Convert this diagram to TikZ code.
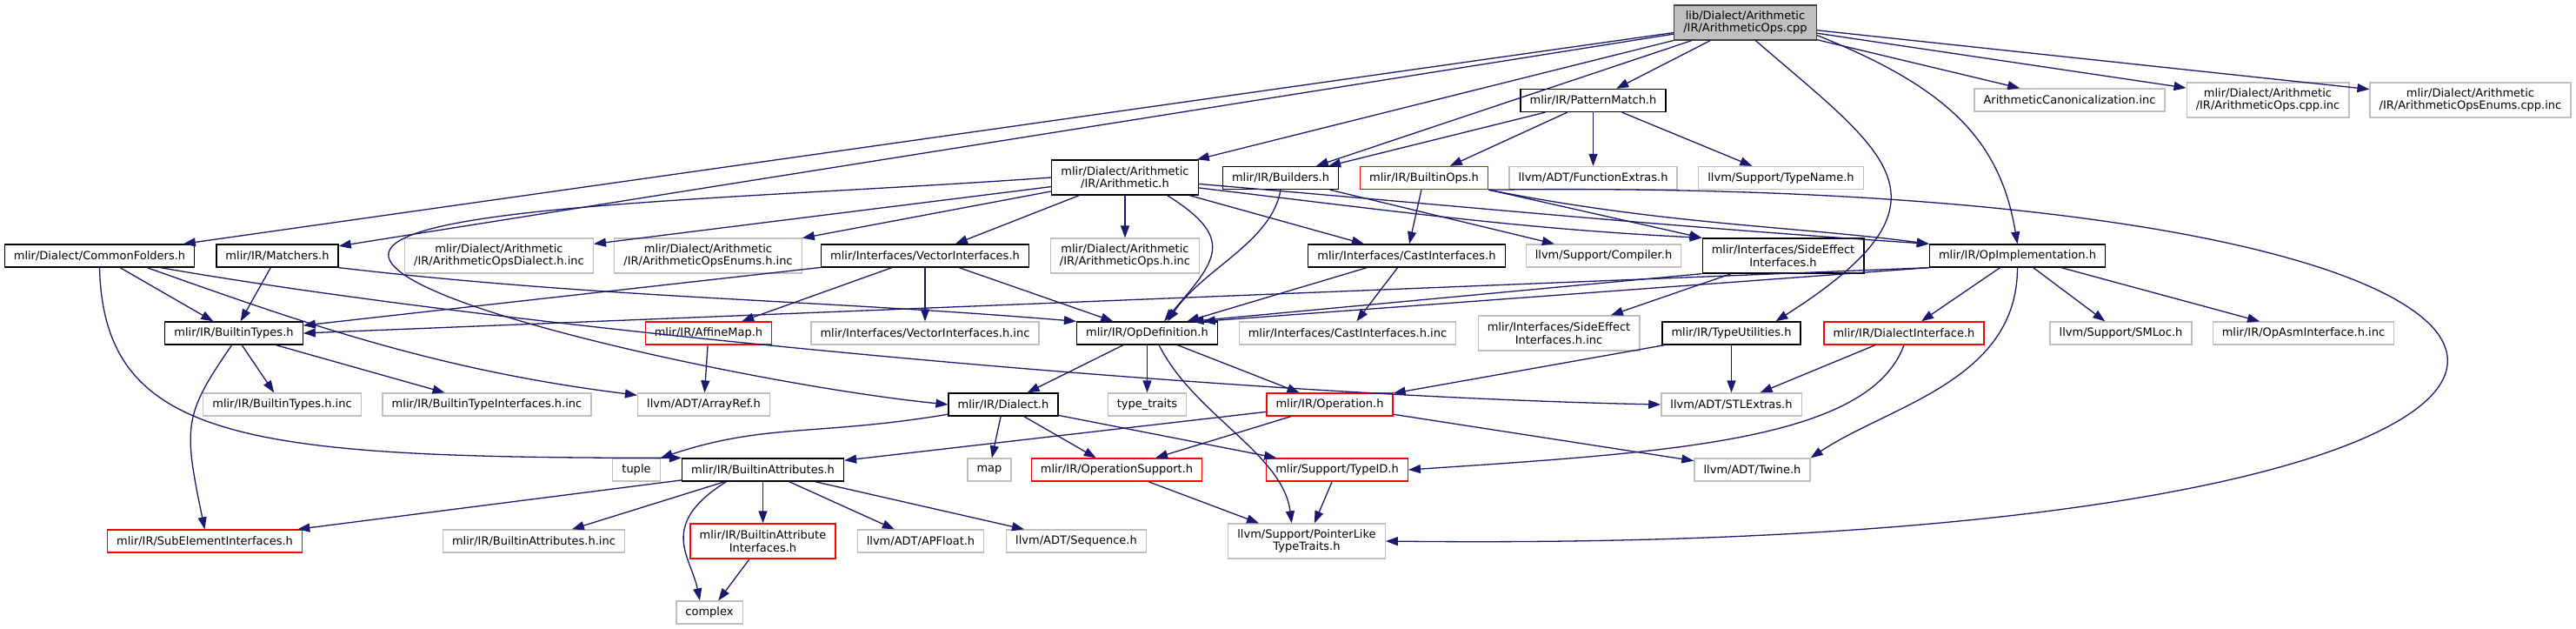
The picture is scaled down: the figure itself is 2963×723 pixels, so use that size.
\documentclass[tikz,border=0pt]{standalone}
\usepackage{fontspec}
\setmainfont{DejaVu Sans}
\usepackage{tikz}
\usetikzlibrary{arrows.meta}
\definecolor{edgeblue}{rgb}{0.1, 0.1, 0.44}
\definecolor{boxgray}{gray}{0.75}
\definecolor{rootborder}{gray}{0.25}

\begin{document}
\begin{tikzpicture}[
    x=0.5pt, y=-0.5pt,
    every node/.style={font=\fontsize{6.5}{7.2}\selectfont, align=center, inner xsep=5.3pt, inner ysep=1pt, minimum height=13pt},
    header/.style={draw=black,      line width=0.65pt},
    extern/.style={draw=boxgray,    line width=0.65pt},
    trunc/.style ={draw=red,        line width=0.65pt},
    source/.style={draw=rootborder, fill=boxgray, line width=0.65pt, minimum height=20pt},
    tall/.style  ={minimum height=20pt},
    arrow/.style ={-{Triangle[length=7pt, width=5pt]}, draw=edgeblue, line width=0.65pt}
]

\useasboundingbox[fill=white] (0,0) rectangle (2963,723);

% ========== ROW 0: source file ==========
\node[source] (main) at (2007.5,26) {lib/Dialect/Arithmetic\\/IR/ArithmeticOps.cpp};

% ========== ROW 1 ==========
\node[header]       (patmatch)    at (1832.5,115.5) {mlir/IR/PatternMatch.h};
\node[extern]       (canon)       at (2380.5,115)   {ArithmeticCanonicalization.inc};
\node[extern, tall] (opscppinc)   at (2608.5,115)   {mlir/Dialect/Arithmetic\\/IR/ArithmeticOps.cpp.inc};
\node[extern, tall] (enumscppinc) at (2841.5,115)   {mlir/Dialect/Arithmetic\\/IR/ArithmeticOpsEnums.cpp.inc};

% ========== ROW 2 ==========
\node[header, tall] (arith)      at (1294,204)   {mlir/Dialect/Arithmetic\\/IR/Arithmetic.h};
\node[header]       (builders)   at (1473,204.5) {mlir/IR/Builders.h};
\node[trunc]        (builtinops) at (1638,204.5) {mlir/IR/BuiltinOps.h};
\node[extern]       (funcextras) at (1832.5,204.5) {llvm/ADT/FunctionExtras.h};
\node[extern]       (typename)   at (2048.5,204.5) {llvm/Support/TypeName.h};

% ========== ROW 3 ==========
\node[header]       (commonfolders) at (114.5,294) {mlir/Dialect/CommonFolders.h};
\node[header]       (matchers)      at (319,294)   {mlir/IR/Matchers.h};
\node[extern, tall] (dialectinc)    at (574,294)   {mlir/Dialect/Arithmetic\\/IR/ArithmeticOpsDialect.h.inc};
\node[extern, tall] (enumsinc)      at (814.5,294) {mlir/Dialect/Arithmetic\\/IR/ArithmeticOpsEnums.h.inc};
\node[header]       (vectorif)      at (1064,294)  {mlir/Interfaces/VectorInterfaces.h};
\node[extern, tall] (opsinc)        at (1294,294)  {mlir/Dialect/Arithmetic\\/IR/ArithmeticOps.h.inc};
\node[header]       (castif)        at (1618,294)  {mlir/Interfaces/CastInterfaces.h};
\node[extern]       (compiler)      at (1844.5,294) {llvm/Support/Compiler.h};
\node[header, tall] (sideeffect)    at (2051,294)  {mlir/Interfaces/SideEffect\\Interfaces.h};
\node[header]       (opimpl)        at (2320.5,294) {mlir/IR/OpImplementation.h};

% ========== ROW 4 ==========
\node[header]       (builtintypes)  at (269,383)    {mlir/IR/BuiltinTypes.h};
\node[trunc]        (affinemap)     at (815,383)    {mlir/IR/AffineMap.h};
\node[extern]       (vectorifinc)   at (1064,383)   {mlir/Interfaces/VectorInterfaces.h.inc};
\node[header]       (opdef)         at (1319.5,383) {mlir/IR/OpDefinition.h};
\node[extern]       (castifinc)     at (1550,383)   {mlir/Interfaces/CastInterfaces.h.inc};
\node[extern, tall] (sideeffectinc) at (1793,383)   {mlir/Interfaces/SideEffect\\Interfaces.h.inc};
\node[header]       (typeutil)      at (1991.5,383) {mlir/IR/TypeUtilities.h};
\node[trunc]        (dialectif)     at (2190,383)   {mlir/IR/DialectInterface.h};
\node[extern]       (smloc)         at (2439.5,383) {llvm/Support/SMLoc.h};
\node[extern]       (opasminc)      at (2649.5,383) {mlir/IR/OpAsmInterface.h.inc};

% ========== ROW 5 ==========
\node[extern] (builtintypesinc) at (324.5,465)  {mlir/IR/BuiltinTypes.h.inc};
\node[extern] (typeifinc)       at (560,465)    {mlir/IR/BuiltinTypeInterfaces.h.inc};
\node[extern] (arrayref)        at (809.5,465)  {llvm/ADT/ArrayRef.h};
\node[header] (dialect)         at (1154,465)   {mlir/IR/Dialect.h};
\node[extern] (typetraits)      at (1319.5,465) {type\_traits};
\node[trunc]  (operation)       at (1529.5,465) {mlir/IR/Operation.h};
\node[extern] (stlextras)       at (1991.5,465) {llvm/ADT/STLExtras.h};

% ========== ROW 6 ==========
\node[extern] (tuple)        at (732,540)    {tuple};
\node[header] (builtinattrs) at (877.5,540)  {mlir/IR/BuiltinAttributes.h};
\node[extern] (map)          at (1138,540)   {map};
\node[trunc]  (opsupport)    at (1284.5,540) {mlir/IR/OperationSupport.h};
\node[trunc]  (typeid)       at (1538,540)   {mlir/Support/TypeID.h};
\node[extern] (twine)        at (2015.5,540) {llvm/ADT/Twine.h};

% ========== ROW 7 ==========
\node[trunc]        (subelem)  at (235.5,622) {mlir/IR/SubElementInterfaces.h};
\node[extern]       (attrsinc) at (614,622)   {mlir/IR/BuiltinAttributes.h.inc};
\node[trunc, tall]  (attrif)   at (877.5,622) {mlir/IR/BuiltinAttribute\\Interfaces.h};
\node[extern]       (apfloat)  at (1059,622)  {llvm/ADT/APFloat.h};
\node[extern]       (sequence) at (1238,622)  {llvm/ADT/Sequence.h};
\node[extern, tall] (ptrlike)  at (1503,622)  {llvm/Support/PointerLike\\TypeTraits.h};

% ========== ROW 8 ==========
\node[extern] (complex) at (816,704) {complex};

% ========== ARROWS ==========
% source file
\draw[arrow] (main) -- (commonfolders);
\draw[arrow] (main) -- (matchers);
\draw[arrow] (main) -- (arith);
\draw[arrow] (main) -- (builders);
\draw[arrow] (main) -- (patmatch);
\draw[arrow] (main) -- (canon);
\draw[arrow] (main) -- (opscppinc);
\draw[arrow] (main) -- (enumscppinc);
\draw[arrow] (main.-10) .. controls +(150,60) and +(-20,-120) .. (opimpl.north);
\draw[arrow] (main.-60) .. controls +(150,130) and +(220,-140) .. (typeutil.15);

% PatternMatch.h
\draw[arrow] (patmatch) -- (builders);
\draw[arrow] (patmatch) -- (builtinops);
\draw[arrow] (patmatch) -- (funcextras);
\draw[arrow] (patmatch) -- (typename);

% Arithmetic.h
\draw[arrow] (arith) -- (dialectinc);
\draw[arrow] (arith) -- (enumsinc);
\draw[arrow] (arith) -- (vectorif);
\draw[arrow] (arith) -- (opsinc);
\draw[arrow] (arith) -- (castif);
\draw[arrow] (arith.-23) .. controls +(80,50) and +(60,-70) .. (opdef.35);
\draw[arrow] (arith.-8) .. controls +(250,30) and +(-200,-10) .. (sideeffect.north west);
\draw[arrow] (arith.-5) .. controls +(350,30) and +(-300,-20) .. (opimpl.north west);
\draw[arrow] (arith.west) .. controls +(-350,25) and +(-10,-60) .. (447,295)
                          .. controls +(10,60) and +(-200,-20) .. (dialect.west);

% Builders.h, BuiltinOps.h
\draw[arrow] (builders.south) .. controls +(-10,60) and +(40,-60) .. (opdef.30);
\draw[arrow] (builders) -- (compiler);
\draw[arrow] (builtinops) -- (castif);
\draw[arrow] (builtinops.south east) -- (sideeffect.north west);
\draw[arrow] (builtinops.south east) .. controls +(200,40) and +(-150,-20) .. (opimpl.north west);
\draw[arrow] (builtinops.south east) .. controls (3200,200) and (3200,640) .. (ptrlike.east);

% row 3 headers
\draw[arrow] (commonfolders) -- (builtintypes);
\draw[arrow] (commonfolders.south) .. controls +(5,200) and +(-500,0) .. (builtinattrs.north west);
\draw[arrow] (commonfolders.-14) .. controls +(178,63) and +(-233,-29) .. (arrayref.172);
\draw[arrow] (commonfolders.-11) .. controls +(400,70) and +(-500,-10) .. (stlextras.west);
\draw[arrow] (matchers) -- (builtintypes);
\draw[arrow] (matchers.south east) .. controls +(300,35) and +(-300,-25) .. (opdef.north west);
\draw[arrow] (vectorif) -- (builtintypes);
\draw[arrow] (vectorif) -- (affinemap);
\draw[arrow] (vectorif) -- (vectorifinc);
\draw[arrow] (vectorif) -- (opdef);
\draw[arrow] (castif) -- (opdef);
\draw[arrow] (castif) -- (castifinc);
\draw[arrow] (sideeffect.south west) -- (opdef.15);
\draw[arrow] (sideeffect) -- (sideeffectinc);
\draw[arrow] (opimpl.south west) -- (opdef.12);
\draw[arrow] (opimpl.south west) -- (builtintypes.east);
\draw[arrow] (opimpl) -- (dialectif);
\draw[arrow] (opimpl) -- (smloc);
\draw[arrow] (opimpl) -- (opasminc);
\draw[arrow] (opimpl.south) .. controls +(0,130) and +(90,-60) .. (twine.north east);

% row 4 headers
\draw[arrow] (builtintypes.-100) .. controls +(-55,80) and +(-25,-120) .. (subelem.north);
\draw[arrow] (builtintypes) -- (builtintypesinc);
\draw[arrow] (builtintypes) -- (typeifinc);
\draw[arrow] (affinemap) -- (arrayref);
\draw[arrow] (opdef) -- (dialect);
\draw[arrow] (opdef) -- (typetraits);
\draw[arrow] (opdef) -- (operation);
\draw[arrow] (opdef.-45) .. controls +(40,80) and +(-10,-80) .. (ptrlike.130);
\draw[arrow] (typeutil) -- (operation);
\draw[arrow] (typeutil) -- (stlextras);
\draw[arrow] (dialectif) -- (stlextras);
\draw[arrow] (dialectif.south) .. controls +(-40,110) and +(300,-20) .. (typeid.east);

% row 5 headers
\draw[arrow] (dialect) -- (map);
\draw[arrow] (dialect) -- (opsupport);
\draw[arrow] (dialect) -- (typeid);
\draw[arrow] (dialect.-170) .. controls +(-150,25) and +(120,-40) .. (tuple.north east);
\draw[arrow] (operation) -- (builtinattrs);
\draw[arrow] (operation) -- (opsupport);
\draw[arrow] (operation) -- (twine);

% row 6 headers
\draw[arrow] (opsupport) -- (ptrlike);
\draw[arrow] (typeid) -- (ptrlike);
\draw[arrow] (builtinattrs) -- (subelem);
\draw[arrow] (builtinattrs) -- (attrsinc);
\draw[arrow] (builtinattrs) -- (attrif);
\draw[arrow] (builtinattrs) -- (apfloat);
\draw[arrow] (builtinattrs) -- (sequence);
\draw[arrow] (builtinattrs.-162) .. controls +(-80,50) and +(-10,-50) .. (complex.129);

% row 7
\draw[arrow] (attrif) -- (complex);

\end{tikzpicture}
\end{document}
